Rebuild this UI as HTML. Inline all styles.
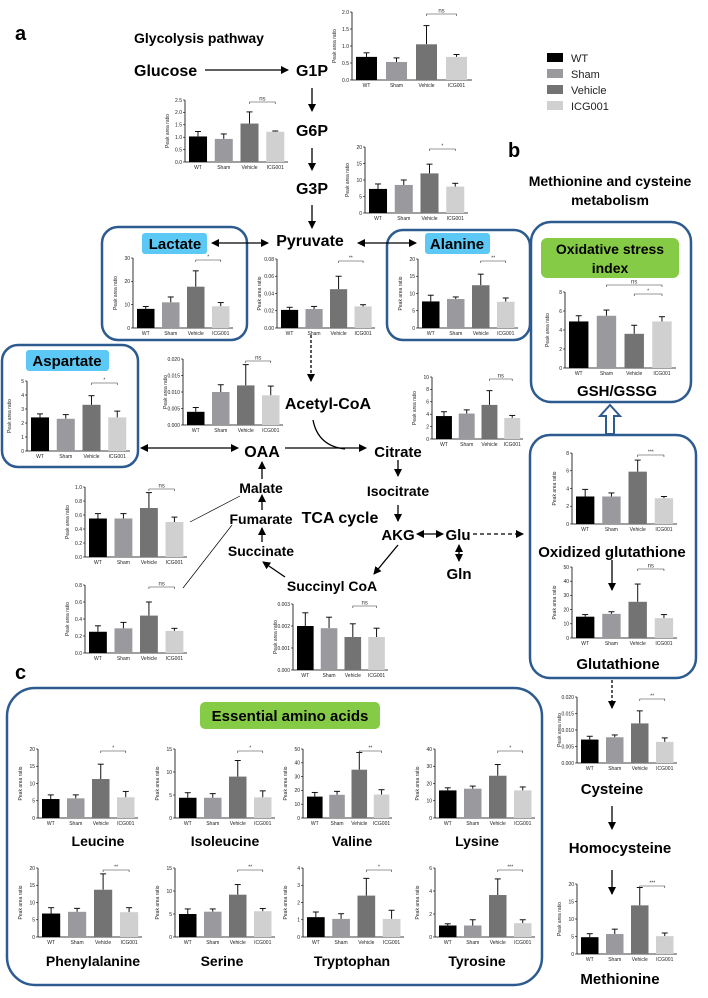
<!DOCTYPE html>
<html><head><meta charset="utf-8"><style>
html,body{margin:0;padding:0;background:#fff;}
svg{display:block;font-family:"Liberation Sans",Arial,sans-serif;}
.t{font-weight:bold;fill:#000;}
</style></head><body>
<svg id="s" width="708" height="998" viewBox="0 0 708 998" xmlns="http://www.w3.org/2000/svg">
<defs>
<marker id="ah" markerWidth="8" markerHeight="8" refX="7" refY="4" orient="auto" markerUnits="userSpaceOnUse"><path d="M0,0L8,4L0,8z" fill="#000"/></marker>
<marker id="ahs" markerWidth="8" markerHeight="8" refX="1" refY="4" orient="auto" markerUnits="userSpaceOnUse"><path d="M8,0L0,4L8,8z" fill="#000"/></marker>
</defs>
<g fill="none" stroke="#2e5b8f" stroke-width="2.5">
<rect x="102" y="227" width="145" height="113" rx="16"/>
<rect x="387" y="230" width="143" height="110" rx="16"/>
<rect x="2" y="345" width="136" height="122" rx="16"/>
<rect x="531" y="222" width="160" height="180" rx="20"/>
<rect x="530" y="435" width="166" height="243" rx="20"/>
<rect x="7" y="688" width="535" height="297" rx="28"/>
</g>
<rect x="142" y="233" width="65" height="21" rx="3" fill="#5bc8f5"/>
<rect x="425" y="233" width="65" height="21" rx="3" fill="#5bc8f5"/>
<rect x="26" y="350" width="83" height="21" rx="3" fill="#5bc8f5"/>
<rect x="541" y="238" width="138" height="40" rx="6" fill="#86cb46"/>
<rect x="200" y="702" width="180" height="27" rx="5" fill="#86cb46"/>
<g class="t">
<text x="15" y="40" font-size="20">a</text>
<text x="508" y="157" font-size="20">b</text>
<text x="15" y="679" font-size="20">c</text>
<text x="134" y="43" font-size="14">Glycolysis pathway</text>
<text x="134" y="76" font-size="16">Glucose</text>
<text x="312" y="76" font-size="16" text-anchor="middle">G1P</text>
<text x="312" y="136" font-size="16" text-anchor="middle">G6P</text>
<text x="312" y="194" font-size="16" text-anchor="middle">G3P</text>
<text x="310" y="246" font-size="16" text-anchor="middle">Pyruvate</text>
<text x="175" y="249" font-size="15" text-anchor="middle">Lactate</text>
<text x="457" y="249" font-size="15" text-anchor="middle">Alanine</text>
<text x="67" y="366" font-size="15" text-anchor="middle">Aspartate</text>
<text x="328" y="409" font-size="16" text-anchor="middle">Acetyl-CoA</text>
<text x="262" y="457" font-size="16" text-anchor="middle">OAA</text>
<text x="398" y="457" font-size="15" text-anchor="middle">Citrate</text>
<text x="398" y="496" font-size="14" text-anchor="middle">Isocitrate</text>
<text x="261" y="493" font-size="14" text-anchor="middle">Malate</text>
<text x="261" y="524" font-size="14" text-anchor="middle">Fumarate</text>
<text x="340" y="523" font-size="16" text-anchor="middle">TCA cycle</text>
<text x="398" y="540" font-size="15" text-anchor="middle">AKG</text>
<text x="458" y="540" font-size="15" text-anchor="middle">Glu</text>
<text x="459" y="579" font-size="15" text-anchor="middle">Gln</text>
<text x="261" y="556" font-size="14" text-anchor="middle">Succinate</text>
<text x="332" y="591" font-size="14" text-anchor="middle">Succinyl CoA</text>
<text x="610" y="186" font-size="14" text-anchor="middle">Methionine and cysteine</text>
<text x="610" y="205" font-size="14" text-anchor="middle">metabolism</text>
<text x="610" y="254" font-size="14" text-anchor="middle">Oxidative stress</text>
<text x="610" y="273" font-size="14" text-anchor="middle">index</text>
<text x="617" y="396" font-size="15" text-anchor="middle">GSH/GSSG</text>
<text x="612" y="557" font-size="15" text-anchor="middle">Oxidized glutathione</text>
<text x="618" y="669" font-size="15" text-anchor="middle">Glutathione</text>
<text x="612" y="794" font-size="15" text-anchor="middle">Cysteine</text>
<text x="620" y="853" font-size="15" text-anchor="middle">Homocysteine</text>
<text x="620" y="984" font-size="15" text-anchor="middle">Methionine</text>
<text x="290" y="721" font-size="15" text-anchor="middle">Essential amino acids</text>
<text x="98" y="846" font-size="14" text-anchor="middle">Leucine</text>
<text x="225" y="846" font-size="14" text-anchor="middle">Isoleucine</text>
<text x="352" y="846" font-size="14" text-anchor="middle">Valine</text>
<text x="477" y="846" font-size="14" text-anchor="middle">Lysine</text>
<text x="93" y="966" font-size="14" text-anchor="middle">Phenylalanine</text>
<text x="222" y="966" font-size="14" text-anchor="middle">Serine</text>
<text x="352" y="966" font-size="14" text-anchor="middle">Tryptophan</text>
<text x="477" y="966" font-size="14" text-anchor="middle">Tyrosine</text>
</g>
<g font-size="11" fill="#222">
<rect x="547" y="53" width="16" height="9" fill="#000"/><text x="571" y="62">WT</text>
<rect x="547" y="69" width="16" height="9" fill="#9a9a9e"/><text x="571" y="78">Sham</text>
<rect x="547" y="85" width="16" height="9" fill="#737373"/><text x="571" y="94">Vehicle</text>
<rect x="547" y="101" width="16" height="9" fill="#d0d0d0"/><text x="571" y="110">ICG001</text>
</g>
<g stroke="#000" stroke-width="1.3" fill="none">
<line x1="205" y1="70" x2="288" y2="70" marker-end="url(#ah)"/>
<line x1="312" y1="88" x2="312" y2="111" marker-end="url(#ah)"/>
<line x1="312" y1="148" x2="312" y2="170" marker-end="url(#ah)"/>
<line x1="312" y1="205" x2="312" y2="228" marker-end="url(#ah)"/>
<line x1="212" y1="243" x2="268" y2="243" marker-start="url(#ahs)" marker-end="url(#ah)"/>
<line x1="358" y1="243" x2="416" y2="243" marker-start="url(#ahs)" marker-end="url(#ah)"/>
<line x1="311" y1="335" x2="311" y2="381" stroke-dasharray="3,2" marker-end="url(#ah)"/>
<path d="M313,420 Q318,446 345,449"/>
<line x1="141" y1="448" x2="238" y2="448" marker-start="url(#ahs)" marker-end="url(#ah)"/>
<line x1="285" y1="448" x2="366" y2="448" marker-end="url(#ah)"/>
<line x1="398" y1="460" x2="398" y2="476" marker-end="url(#ah)"/>
<line x1="398" y1="505" x2="398" y2="521" marker-end="url(#ah)"/>
<line x1="417" y1="534" x2="443" y2="534" marker-start="url(#ahs)" marker-end="url(#ah)"/>
<line x1="473" y1="534" x2="523" y2="534" stroke-dasharray="4,3" marker-end="url(#ah)"/>
<line x1="459" y1="545" x2="459" y2="561" marker-start="url(#ahs)" marker-end="url(#ah)"/>
<line x1="398" y1="545" x2="374" y2="574" marker-end="url(#ah)"/>
<line x1="285" y1="577" x2="263" y2="562" marker-end="url(#ah)"/>
<line x1="262" y1="542" x2="262" y2="528" marker-end="url(#ah)"/>
<line x1="262" y1="510" x2="262" y2="495" marker-end="url(#ah)"/>
<line x1="262" y1="479" x2="262" y2="462" marker-end="url(#ah)"/>
<line x1="190" y1="522" x2="240" y2="496" stroke-width="0.7"/>
<line x1="183" y1="588" x2="232" y2="525" stroke-width="0.7"/>
<line x1="612" y1="560" x2="612" y2="590" marker-end="url(#ah)"/>
<line x1="612" y1="680" x2="612" y2="708" stroke-dasharray="3,2" marker-end="url(#ah)"/>
<line x1="612" y1="806" x2="612" y2="829" marker-end="url(#ah)"/>
<line x1="612" y1="870" x2="612" y2="894" marker-end="url(#ah)"/>
</g>
<path d="M610,405 L620,416 L614,416 L614,434 L606,434 L606,416 L600,416 Z" fill="#fff" stroke="#2e5b8f" stroke-width="2"/>
<g id="charts"></g>
</svg>
<script>
var NS="http://www.w3.org/2000/svg",G=document.getElementById("charts");
function el(n,a,t){var e=document.createElementNS(NS,n);for(var k in a)e.setAttribute(k,a[k]);if(t!=null)e.textContent=t;G.appendChild(e);return e;}
var C=["#000","#9a9a9e","#737373","#d0d0d0"],L=["WT","Sham","Vehicle","ICG001"];
function ch(ax,top,bot,r,max,step,dec,v,e,sg){
 var h=bot-top,w=r-ax,slot=w/4,bw=slot*0.7;
 function Y(x){return bot-x/max*h;}
 el("line",{x1:ax,y1:top,x2:ax,y2:bot,stroke:"#000","stroke-width":0.8});
 el("line",{x1:ax,y1:bot,x2:r,y2:bot,stroke:"#000","stroke-width":0.8});
 var n=Math.round(max/step);
 for(var i=0;i<=n;i++){var y=Y(i*step);
  el("line",{x1:ax-2,y1:y,x2:ax,y2:y,stroke:"#000","stroke-width":0.6});
  el("text",{x:ax-3,y:y+1.8,"font-size":5,"text-anchor":"end",fill:"#222"},(i*step).toFixed(dec));}
 el("text",{x:0,y:0,"font-size":5,"text-anchor":"middle",fill:"#222",transform:"translate("+(ax-16)+","+((top+bot)/2)+") rotate(-90)"},"Peak area ratio");
 var cx=[];
 for(var j=0;j<4;j++){var x=ax+4+j*slot;cx.push(x+bw/2);
  var yt=Y(v[j]),ye=Y(v[j]+e[j]);
  el("line",{x1:x+bw/2,y1:yt,x2:x+bw/2,y2:ye,stroke:"#111","stroke-width":1});
  el("line",{x1:x+bw/2-3,y1:ye,x2:x+bw/2+3,y2:ye,stroke:"#111","stroke-width":1});
  el("rect",{x:x,y:yt,width:bw,height:bot-yt,fill:C[j]});
  el("text",{x:x+bw/2,y:bot+7,"font-size":5,"text-anchor":"middle",fill:"#222"},L[j]);}
 (sg||[]).forEach(function(s){var y=top+2-(s[3]||0)*9;
  el("path",{d:"M"+cx[s[0]]+","+(y+2)+"V"+y+"H"+cx[s[1]]+"V"+(y+2),fill:"none",stroke:"#333","stroke-width":0.6});
  el("text",{x:(cx[s[0]]+cx[s[1]])/2,y:y-1.5,"font-size":s[2]=="ns"?6:5,"text-anchor":"middle",fill:"#333"},s[2]);});
}
ch(352,12,80,472,2,.5,1,[.68,.53,1.05,.68],[.12,.12,.55,.07],[[2,3,"ns"]]);
ch(185,100,162,288,2.5,.5,1,[1.03,.93,1.55,1.22],[.2,.2,.47,.03],[[2,3,"ns"]]);
ch(365,147,213,468,20,5,0,[7.3,8.5,12,8],[1.5,1.5,2.8,1],[[2,3,"*"]]);
ch(133,258,328,233,30,10,0,[8.2,11,17.7,9.3],[1,2.3,6.8,1.6],[[2,3,"*"]]);
ch(277,259,328,375,.08,.02,2,[.021,.022,.045,.025],[.003,.003,.015,.002],[[2,3,"**"]]);
ch(418,259,328,518,20,5,0,[7.7,8.4,12.4,7.6],[1.8,.6,3.2,1.1],[[2,3,"**"]]);
ch(27,381,451,130,5,1,0,[2.4,2.3,3.3,2.4],[.25,.3,.65,.45],[[2,3,"*"]]);
ch(183,359,425,283,.02,.005,3,[.004,.01,.012,.009],[.0013,.0022,.0063,.0028],[[2,3,"ns"]]);
ch(432,377,439,523,10,2,0,[3.7,4.1,5.5,3.4],[.7,.6,2.3,.4],[[2,3,"ns"]]);
ch(85,487,557,187,1,.2,1,[.55,.55,.7,.5],[.07,.07,.22,.07],[[2,3,"ns"]]);
ch(85,585,653,187,.8,.2,1,[.25,.29,.44,.26],[.07,.07,.16,.03],[[2,3,"ns"]]);
ch(293,604,670,388,.003,.001,3,[.002,.0019,.0015,.0015],[.0006,.0005,.0006,.0004],[[2,3,"ns"]]);
ch(565,292,368,676,8,2,0,[4.9,5.5,3.6,4.9],[.6,.6,.9,.5],[[1,3,"ns",1],[2,3,"*",0]]);
ch(572,453,524,677,8,2,0,[3.1,3.1,5.9,2.9],[.8,.4,1.3,.2],[[2,3,"***"]]);
ch(572,567,638,677,50,10,0,[15,17,25.5,14],[1.5,1.5,12.5,2.5],[[2,3,"ns"]]);
ch(577,697,763,677,.02,.005,3,[.0071,.0078,.012,.0064],[.001,.0007,.0038,.0012],[[2,3,"**"]]);
ch(577,884,954,677,20,5,0,[4.8,5.7,13.9,5.1],[1,1.4,5.1,.9],[[2,3,"***"]]);
ch(38,749,818,138,20,5,0,[5.5,5.7,11.3,6],[1.2,1,4.3,1.7],[[2,3,"*"]]);
ch(175,749,818,275,15,5,0,[4.4,4.4,9,4.5],[1.1,.9,3.5,1.4],[[2,3,"*"]]);
ch(303,749,818,392,50,10,0,[15.5,16.8,35,17],[3,2.5,12.5,3.5],[[2,3,"**"]]);
ch(435,749,818,535,40,10,0,[16,17,24.5,16],[1.5,1.5,6.5,2],[[2,3,"*"]]);
ch(38,868,937,142,20,5,0,[6.8,7.3,13.7,7.2],[1.7,1,4.6,1.3],[[2,3,"**"]]);
ch(175,868,937,275,15,5,0,[5,5.5,9.2,5.6],[1.1,.6,2.2,.6],[[2,3,"**"]]);
ch(303,868,937,404,4,1,0,[1.15,1.05,2.4,1.05],[.3,.3,1,.5],[[2,3,"*"]]);
ch(435,868,937,535,6,2,0,[1,1,3.65,1.2],[.15,.5,1.4,.3],[[2,3,"***"]]);
</script>
</body></html>
